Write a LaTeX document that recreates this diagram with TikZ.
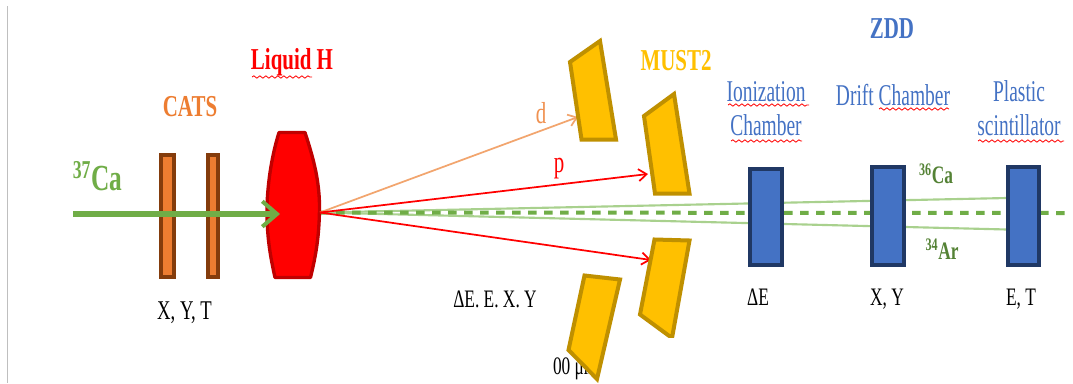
\documentclass[tikz,border=0pt]{standalone}
\usepackage{fontspec}
\setmainfont{Liberation Serif}
\usetikzlibrary{arrows.meta,decorations.pathmorphing}
\definecolor{cgreen}{HTML}{70AD47}
\definecolor{dgreen}{HTML}{548235}
\definecolor{lgreen}{HTML}{A9D18E}
\definecolor{corange}{HTML}{ED7D31}
\definecolor{lorange}{HTML}{F2A56E}
\definecolor{dbrown}{HTML}{843C0C}
\definecolor{cgold}{HTML}{FFC000}
\definecolor{dgold}{HTML}{BF9000}
\definecolor{cblue}{HTML}{4472C4}
\definecolor{dblue}{HTML}{203864}
\definecolor{dred}{HTML}{C00000}
\newcommand{\tall}[1]{\scalebox{1}[1.45]{#1}}
\newcommand{\taller}[1]{\scalebox{1}[1.55]{#1}}
\newcommand{\fsz}{\fontsize{13}{15}\selectfont}
\newcommand{\fbg}{\fontsize{15.7}{18}\selectfont}
\newcommand{\fbl}{\fontsize{14.6}{18}\selectfont}
\tikzset{
  x=0.75pt,y=-0.75pt,
  lbl/.style={inner sep=0pt,outer sep=0pt,anchor=center,font=\fsz,text=black},
  head/.style={lbl,font=\fbg},
  blbl/.style={lbl,font=\fbl,text=cblue},
  catsbox/.style={draw=dbrown,fill=corange,line width=3pt,line join=miter},
  zddbox/.style={draw=dblue,fill=cblue,line width=3pt,line join=miter},
  must/.style={draw=dgold,fill=cgold,line width=3pt,line join=miter},
  track/.style={line width=1.3pt,-{Straight Barb[length=6pt,width=9pt]}},
  frag/.style={draw=lgreen,line width=1.6pt},
  beamdash/.style={draw=cgreen,line width=3pt,dash pattern=on 6.5pt off 5.5pt},
  squiggle/.style={draw=red,line width=0.6pt,decorate,decoration={snake,segment length=4.5pt,amplitude=0.9pt}},
}
\begin{document}
\begin{tikzpicture}
\useasboundingbox (0,0) rectangle (1073,383);
\fill[white] (0,0) rectangle (1073,383);
\draw[draw=black!25,line width=1pt] (7.5,6) -- (7.5,383);

% anchors of the tracks
\coordinate (vtx) at (320,212.5);
\coordinate (hitd) at (578,117);
\coordinate (hitp) at (648,174);
\coordinate (hitl) at (651,260);
\coordinate (beamend) at (1066,213);
\coordinate (caEnd) at (1007,198);
\coordinate (arEnd) at (1007,229.5);
\coordinate (beamstart) at (73,214);
\coordinate (beamtip) at (280,214);

% fragments and dashed beam, behind the detectors
\draw[frag] (vtx) -- (caEnd);
\draw[frag] (vtx) -- (arEnd);
\draw[beamdash] (vtx) -- (beamend);

% CATS
\node[catsbox,minimum width=9.75pt,minimum height=91.5pt,inner sep=0pt] (cats1) at (167.5,216) {};
\node[catsbox,minimum width=7.5pt,minimum height=91.5pt,inner sep=0pt] (cats2) at (213,216) {};

% Target
\draw[draw=dred,fill=red,line width=2.5pt,line join=round]
  (279,132.5) -- (305,132.5) .. controls (314,160) and (319,180) .. (319.5,205)
  .. controls (319.5,235) and (316,255) .. (310.5,277.5) -- (275,277.5)
  .. controls (270,255) and (266.5,235) .. (267,205)
  .. controls (268,180) and (272,155) .. (279,132.5) -- cycle;
\node[inner sep=0pt,outer sep=0pt,minimum size=0pt] (target) at (293,205) {};

% beam
\draw[cgreen,line width=4.5pt,-{Straight Barb[length=11pt,width=19pt,line width=3pt]}] (beamstart) -- (beamtip);

% tracks
\draw[track,draw=lorange] (vtx) -- (hitd);
\draw[track,draw=red] (vtx) -- (hitp);
\draw[track,draw=red] (vtx) -- (hitl);

% cropped text
\node[lbl,anchor=west] (um) at (553,369) {\tall{00 μm}};

% MUST2
\draw[must] (600,41) -- (570,62) -- (581.5,139.5) -- (616,139.5) -- cycle;
\draw[must] (674,94) -- (644,116) -- (655,193.5) -- (689.5,193.5) -- cycle;
\draw[must] (654.5,239.5) -- (689.5,240.5) -- (672,338) -- (640,314.5) -- cycle;
\draw[must] (584.5,275.5) -- (620,279.5) -- (597,379) -- (568.5,350) -- cycle;
\fill[white] (630,337.5) rectangle (690,383);

% ZDD
\node[zddbox,minimum width=24.5pt,minimum height=72pt,inner sep=0pt] (ic) at (766,217) {};
\node[zddbox,minimum width=24.5pt,minimum height=73.5pt,inner sep=0pt] (dc) at (888,216) {};
\node[zddbox,minimum width=23pt,minimum height=73.5pt,inner sep=0pt] (ps) at (1023.5,216) {};

% Labels
\node[head,text=red,font=\bfseries\fbg] (liq) at (292,62) {\tall{Liquid H}};
\node[head,text=corange,font=\bfseries\fbg] (cats) at (190,107) {\tall{CATS}};
\node[head,text=cgold,font=\bfseries\fbg] (must2) at (676,61) {\tall{MUST2}};
\node[head,text=cblue,font=\bfseries\fbg] (zdd) at (892,29) {\tall{ZDD}};
\node[blbl] (ion) at (766,92) {\taller{Ionization}};
\node[blbl] (cha) at (766,125) {\taller{Chamber}};
\node[blbl] (dri) at (893,95) {\taller{Drift Chamber}};
\node[blbl] (pla) at (1019,91) {\taller{Plastic}};
\node[blbl] (sci) at (1019,125) {\taller{scintillator}};
\node[head,text=cgreen,font=\bfseries\fontsize{19}{22}\selectfont] (ca37) at (97.5,176) {\tall{\textsuperscript{37}Ca}};
\node[lbl,text=dgreen,font=\bfseries\fsz] (ca36) at (936,174) {\tall{\textsuperscript{36}Ca}};
\node[lbl,text=dgreen,font=\bfseries\fsz] (ar34) at (942,249) {\tall{\textsuperscript{34}Ar}};
\node[lbl,text=corange!85!white,font=\fbg] (d) at (541,113) {\tall{d}};
\node[lbl,text=red,font=\fbg] (p) at (559,169) {\tall{p}};
\node[lbl,font=\fontsize{14}{16}\selectfont] (xyt) at (184.5,313) {\tall{X, Y, T}};
\node[lbl] (must) at (495,299) {\tall{ΔE. E. X. Y}};
\node[lbl] (de) at (758,297) {\tall{ΔE}};
\node[lbl] (xy) at (887,299) {\tall{X, Y}};
\node[lbl] (et) at (1021,299) {\tall{E, T}};

% spell-check underlines
\draw[squiggle] (252,77) -- (312,77);
\draw[squiggle] (728,105) -- (809,105);
\draw[squiggle] (731,141) -- (802,141);
\draw[squiggle] (879,109) -- (949,109);
\draw[squiggle] (978,141) -- (1064,141);
\end{tikzpicture}
\end{document}
